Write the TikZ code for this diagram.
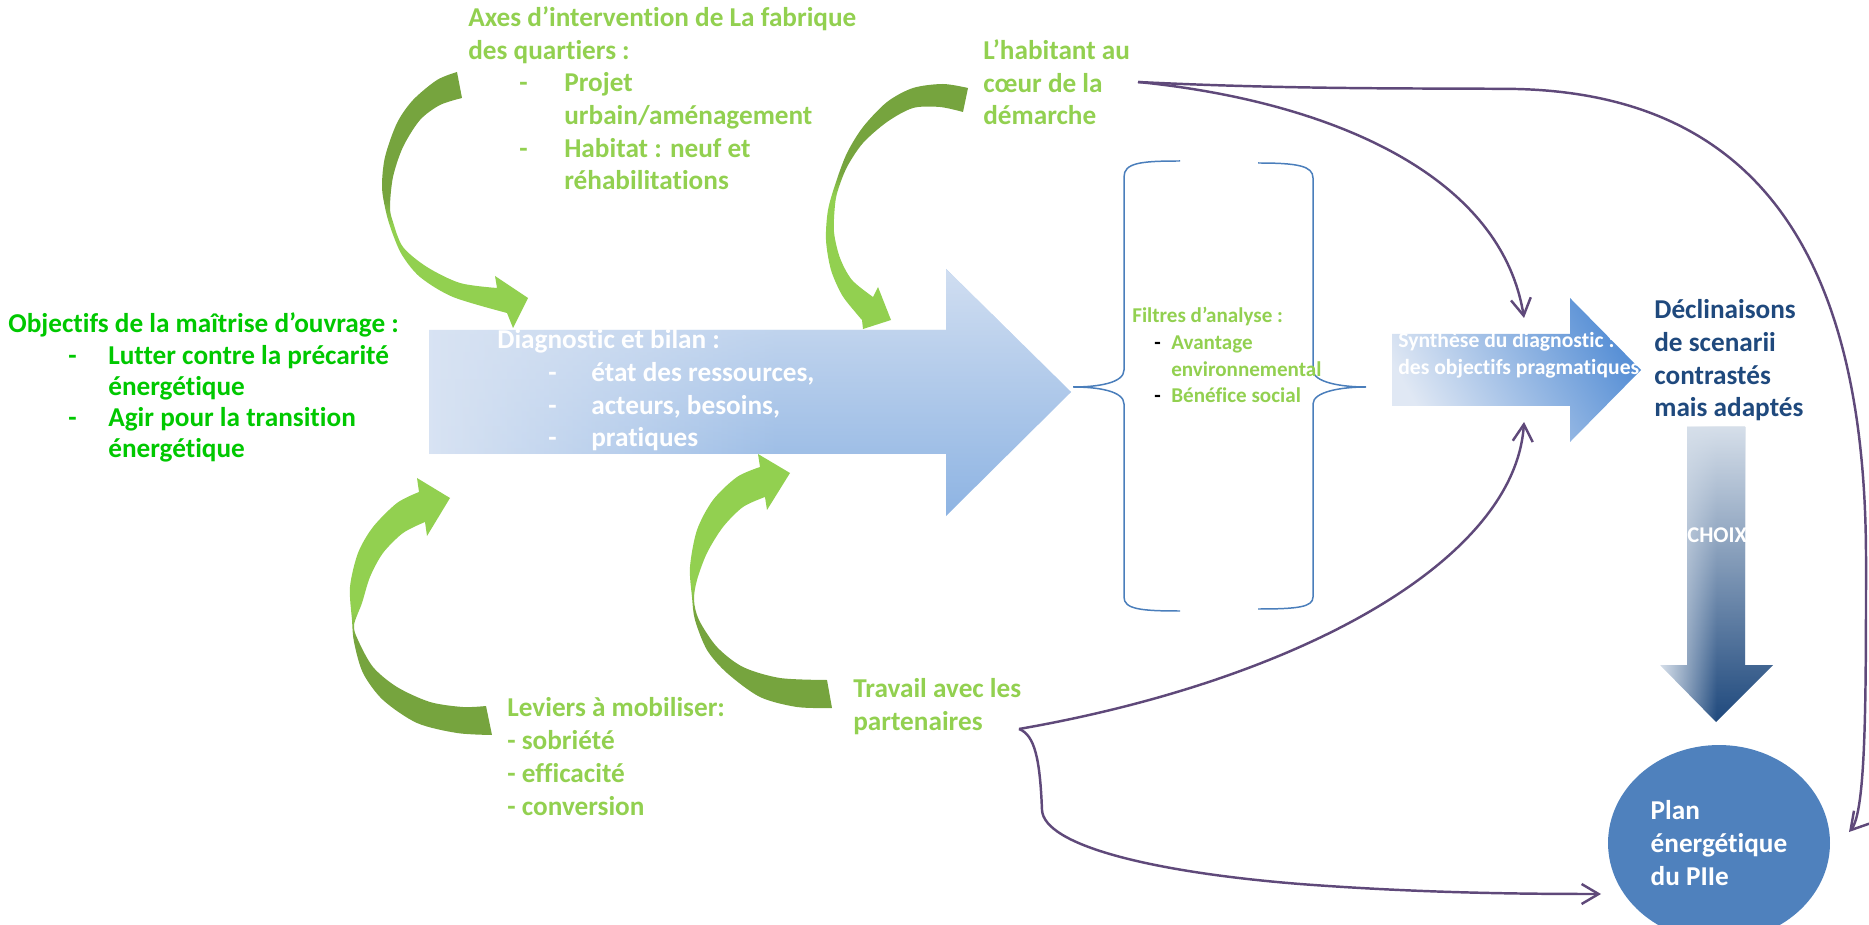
\documentclass[tikz,border=0pt]{standalone}
\usepackage{fontspec}
\setmainfont{Carlito}[Ligatures={TeX,NoCommon}]
\usepackage{tikz}
\usetikzlibrary{arrows.meta}
\usetikzlibrary{shapes.geometric}
\usetikzlibrary{fadings}

\definecolor{leafgreen}{HTML}{92D050}
\definecolor{leafdark}{HTML}{76A43E}
\definecolor{brightgreen}{HTML}{00C800}
\definecolor{navy}{HTML}{1F497D}
\definecolor{plum}{HTML}{5F497A}
\definecolor{bracket}{HTML}{4A7EBB}
\definecolor{skylight}{HTML}{D8E3F3}
\definecolor{skyblue}{HTML}{8EB4E3}
\definecolor{synthlight}{HTML}{E0E8F4}
\definecolor{synthblue}{HTML}{558ED5}
\definecolor{planblue}{HTML}{4F81BD}
\definecolor{choixlight}{HTML}{D6DFEA}

\pgfdeclarehorizontalshading{diagfill}{100bp}{color(0bp)=(skylight); color(25bp)=(skylight); color(52bp)=(skyblue); color(100bp)=(skyblue)}
\pgfdeclarehorizontalshading{choixfill}{100bp}{color(0bp)=(choixlight); color(25bp)=(choixlight); color(50bp)=(navy); color(100bp)=(navy)}
\pgfdeclareverticalshading{twistA}{100bp}{color(0bp)=(leafgreen); color(45bp)=(leafgreen); color(50bp)=(leafdark); color(100bp)=(leafdark)}
\pgfdeclareverticalshading{twistB}{100bp}{color(0bp)=(leafgreen); color(52bp)=(leafgreen); color(57bp)=(leafdark); color(100bp)=(leafdark)}
\pgfdeclareverticalshading{twistC}{100bp}{color(0bp)=(leafdark); color(44bp)=(leafdark); color(49bp)=(leafgreen); color(100bp)=(leafgreen)}
\tikzfading[name=choixfade, top color=transparent!0, middle color=transparent!85, bottom color=transparent!100]
\tikzfading[name=diagfade, top color=transparent!10, middle color=transparent!100, bottom color=transparent!100]

\newcommand{\dashat}[2]{\hspace*{#1}\makebox[#2][l]{-}}

\begin{document}
\begin{tikzpicture}[x=0.02cm, y=-0.02cm,
    bigtext/.style={font=\bfseries\fontsize{15.5}{18.6}\selectfont, align=left, anchor=base west, inner sep=0pt},
    smalltext/.style={font=\bfseries\fontsize{12}{15.2}\selectfont, align=left, anchor=base west, inner sep=0pt},
    plan/.style={ellipse, fill=planblue, text=white, minimum width=4.44cm, minimum height=3.92cm,
      inner sep=0pt, align=left, font=\bfseries\fontsize{15.5}{18.8}\selectfont},
    link/.style={plum, line width=1.4pt, -{Straight Barb[length=3.4mm, width=4mm]}},
    brace/.style={bracket, line width=0.85pt}]
  \useasboundingbox (0,0) rectangle (1869,925);

  % big blue arrows
  \shade[shading=diagfill, postaction={fill=skylight, path fading=diagfade}]
    (429,330) -- (946,330) -- (946,269) -- (1071,392) -- (946,516)
    -- (946,454) -- (429,454) -- cycle;
  \shade[top color=synthblue, bottom color=synthlight, shading angle=-60]
    (1392,334) -- (1570,334) -- (1570,298) -- (1641,370) -- (1570,442)
    -- (1570,406) -- (1392,406) -- cycle;
  \shade[shading=choixfill, postaction={fill=choixlight, path fading=choixfade}]
    (1687,427) -- (1745,427) -- (1745,665) -- (1773,665) -- (1716,722) -- (1660,665)
    -- (1687,665) -- cycle;

  % curved green arrows
  \shade[shading=twistA] plot[smooth] coordinates {(457,72) (437,80) (413,100) (397,123) (385,157)
      (382,187) (386,212) (392,232) (402,255) (420,277) (453,297) (507,313)}
    -- (513,328) -- (528,298) -- (495,276)
    -- plot[smooth] coordinates {(497,288) (460,283) (427,267) (403,247) (393,222) (390,207)
      (393,177) (403,147) (420,120) (440,105) (462,98)} -- cycle;
  \shade[shading=twistB] plot[smooth] coordinates {(968,88) (943,84) (913,88) (887,102) (863,127)
      (847,153) (836,182) (828,210) (826,240) (831,270) (842,295) (856,313) (862,320)}
    -- (863,329) -- (891,320) -- (878,287)
    -- plot[smooth] coordinates {(873,297) (852,280) (840,258) (834,232) (835,205) (838,190)
      (847,167) (863,143) (887,122) (913,108) (940,107) (963,112)} -- cycle;
  \shade[shading=twistC] plot[smooth] coordinates {(419,492) (397,503) (373,527) (358,553)
      (350,587) (352,620) (354,642) (363,673) (383,700) (417,723) (457,733) (492,735)}
    -- plot[smooth] coordinates {(486,706) (463,707) (430,702) (397,687) (373,667) (358,640)
      (354,625) (362,603) (370,577) (383,553) (403,533) (425,522)}
    -- (427,536) -- (450,498) -- (417,478) -- cycle;
  \shade[shading=twistC] plot[smooth] coordinates {(760,467) (737,477) (713,500) (697,530)
      (690,567) (692,597) (695,620) (707,650) (727,673) (760,697) (797,707) (832,708)}
    -- plot[smooth] coordinates {(827,680) (780,678) (743,667) (717,647) (699,620) (694,600)
      (697,580) (707,553) (723,527) (743,507) (765,497)}
    -- (767,510) -- (790,473) -- (758,454) -- cycle;

  % brackets
  \draw[brace] (1180,161) .. controls (1140,161) and (1124,163) .. (1124,177) -- (1124,370)
    .. controls (1124,383) and (1098,387) .. (1073,387) .. controls (1098,387) and (1124,391) .. (1124,404)
    -- (1124,597) .. controls (1124,609) and (1140,611) .. (1180,611);
  \draw[brace] (1258,163) .. controls (1298,163) and (1313,166) .. (1313,178) -- (1313,370)
    .. controls (1313,382) and (1340,387) .. (1366,387) .. controls (1340,387) and (1313,392) .. (1313,404)
    -- (1313,597) .. controls (1313,607) and (1298,609) .. (1258,609);

  % texts (anchored on the baseline of their last line)
  \node[bigtext, text=leafgreen] (axes) at (468,190) {Axes d’intervention de La fabrique\\des quartiers :\\
    \dashat{1.02cm}{0.9cm}Projet\\\hspace*{1.92cm}urbain/aménagement\\
    \dashat{1.02cm}{0.9cm}Habitat : neuf et\\\hspace*{1.92cm}réhabilitations};
  \node[bigtext, text=leafgreen] (habitant) at (983,125) {L’habitant au\\cœur de la\\démarche};
  \node[bigtext, text=brightgreen, font=\bfseries\fontsize{15.5}{17.8}\selectfont] (objectifs) at (8,458)
    {Objectifs de la maîtrise d’ouvrage :\\
    \dashat{1.2cm}{0.8cm}Lutter contre la précarité\\\hspace*{2cm}énergétique\\
    \dashat{1.2cm}{0.8cm}Agir pour la transition\\\hspace*{2cm}énergétique};
  \node[bigtext, text=white] (diag) at (497,447) {Diagnostic et bilan :\\
    \dashat{1.02cm}{0.86cm}état des ressources,\\\dashat{1.02cm}{0.86cm}acteurs, besoins,\\
    \dashat{1.02cm}{0.86cm}pratiques};
  \node[bigtext, text=leafgreen] (leviers) at (507,815) {Leviers à mobiliser:\\- sobriété\\- efficacité\\- conversion};
  \node[bigtext, text=leafgreen] (travail) at (853,730) {Travail avec les\\partenaires};
  \node[smalltext, text=leafgreen] (filtres) at (1132,403) {Filtres d’analyse :\\
    {\color{black}\dashat{0.44cm}{0.34cm}}Avantage\\\hspace*{0.78cm}environnemental\\
    {\color{black}\dashat{0.44cm}{0.34cm}}Bénéfice social};
  \node[smalltext, text=white, font=\bfseries\fontsize{12.3}{15.5}\selectfont] (synth) at (1398,375)
    {Synthèse du diagnostic :\\des objectifs pragmatiques};
  \node[bigtext, text=navy] (declin) at (1654,417) {Déclinaisons\\de scenarii\\contrastés\\mais adaptés};
  \node[smalltext, text=white, font=\bfseries\fontsize{12.8}{15}\selectfont] (choix) at (1687,542) {CHOIX};
  \node[plan] (plan) at (1719,843) {Plan\\énergétique\\du PIIe};

  % connectors
  \coordinate (habout) at (1138,82);
  \coordinate (travout) at (1019,729);
  \coordinate (synthtop) at (1524,318);
  \coordinate (synthbot) at (1524,422);
  \coordinate (planin) at (1849,832);
  \coordinate (planwest) at (1601,894);
  \draw[link] (habout) .. controls (1320,100) and (1500,170) .. (synthtop);
  \draw[link] (habout) .. controls (1300,90) and (1440,88) .. (1517,89)
    .. controls (1760,95) and (1866,260) .. (1866,560) .. controls (1866,700) and (1866,812) .. (planin);
  \draw[link] (travout) .. controls (1300,680) and (1515,560) .. (synthbot);
  \draw[link] (travout) .. controls (1035,735) and (1040,760) .. (1042,810)
    .. controls (1044,845) and (1150,872) .. (1300,884) .. controls (1420,893) and (1520,894) .. (planwest);
\end{tikzpicture}
\end{document}
